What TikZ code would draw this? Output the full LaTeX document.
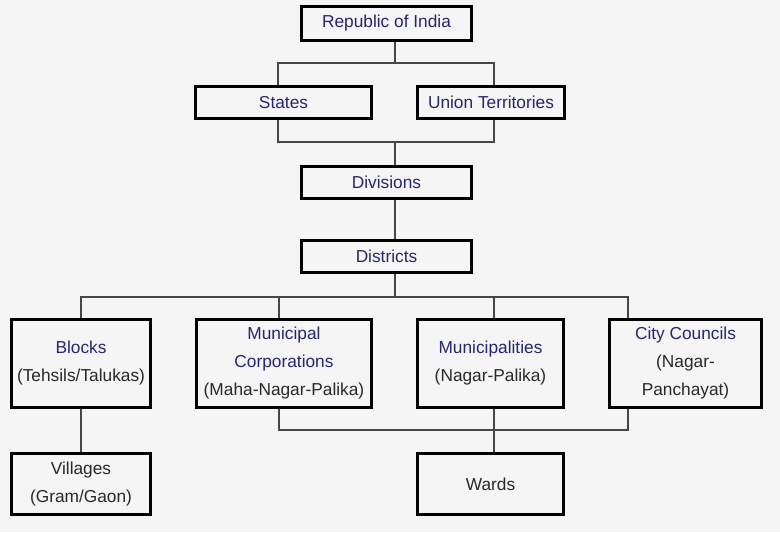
\documentclass[tikz,border=0pt]{standalone}
\usepackage{fontspec}
\setmainfont{Liberation Sans}
\usepackage{tikz}
\usetikzlibrary{calc}

\definecolor{bgcol}{RGB}{245,245,245}
\definecolor{titlecol}{RGB}{38,38,112}
\definecolor{subcol}{RGB}{40,40,40}
\definecolor{linkcol}{RGB}{70,70,70}

\tikzset{
  box/.style={draw=black, line width=1.5pt, fill=bgcol, inner sep=0pt,
    align=center, text=subcol, font=\fontsize{8.65}{14}\selectfont},
  link/.style={draw=linkcol, line width=0.9pt}
}
\newcommand{\ttl}[1]{\textcolor{titlecol}{#1}}

\begin{document}
\begin{tikzpicture}[x=0.5pt, y=-0.5pt]
    % 背景
    \fill[bgcol] (0,0) rectangle (780,532);
    \useasboundingbox (0,0) rectangle (780,532);

    % 上层
    \node[box, minimum width=85pt, minimum height=17pt] (rep) at (386.5,23.5) {\ttl{Republic of India}};
    \node[box, minimum width=88pt, minimum height=16pt] (states) at (283.5,102.5) {\ttl{States}};
    \node[box, minimum width=73.5pt, minimum height=16pt] (ut) at (491,102.5) {\ttl{Union Territories}};
    \node[box, minimum width=85pt, minimum height=16pt] (div) at (386.5,182.5) {\ttl{Divisions}};
    \node[box, minimum width=85pt, minimum height=16pt] (dist) at (386.5,256.5) {\ttl{Districts}};

    % 中层
    \node[box, minimum width=69.5pt, minimum height=44pt] (blocks) at (81,363.5) {\ttl{Blocks}\\(Tehsils/Talukas)};
    \node[box, minimum width=87.5pt, minimum height=44pt] (mc) at (284,363.5) {\ttl{Municipal}\\\ttl{Corporations}\\(Maha-Nagar-Palika)};
    \node[box, minimum width=73pt, minimum height=44pt] (mun) at (490.5,363.5) {\ttl{Municipalities}\\(Nagar-Palika)};
    \node[box, minimum width=76pt, minimum height=44pt] (cc) at (685.5,363.5) {\ttl{City Councils}\\(Nagar-\\Panchayat)};

    % 下层
    \node[box, minimum width=69.5pt, minimum height=30.5pt] (vil) at (81,484) {Villages\\(Gram/Gaon)};
    \node[box, minimum width=73pt, minimum height=30.5pt] (wards) at (490.5,484) {Wards};

    % 连线的拐点
    \coordinate (j1) at (395,63);
    \coordinate (j1L) at (278,63);
    \coordinate (j1R) at (494,63);
    \coordinate (j2) at (395,142);
    \coordinate (j2L) at (278,142);
    \coordinate (j2R) at (494,142);
    \coordinate (j3) at (395,297);
    \coordinate (b1) at (81,297);
    \coordinate (b2) at (279,297);
    \coordinate (b3) at (494,297);
    \coordinate (b4) at (628,297);
    \coordinate (c2) at (279,430);
    \coordinate (c3) at (494,430);
    \coordinate (c4) at (628,430);

    % 连线
    \draw[link] (rep.south -| j1) -- (j1);
    \draw[link] (states.north -| j1L) -- (j1L) -- (j1R) -- (ut.north -| j1R);
    \draw[link] (states.south -| j2L) -- (j2L) -- (j2R) -- (ut.south -| j2R);
    \draw[link] (j2) -- (div.north -| j2);
    \draw[link] (div.south -| j2) -- (dist.north -| j2);
    \draw[link] (dist.south -| j3) -- (j3);
    \draw[link] (blocks.north -| b1) -- (b1) -- (b4) -- (cc.north -| b4);
    \draw[link] (b2) -- (mc.north -| b2);
    \draw[link] (b3) -- (mun.north -| b3);
    \draw[link] (mc.south -| c2) -- (c2) -- (c4) -- (cc.south -| c4);
    \draw[link] (mun.south -| c3) -- (wards.north -| c3);
    \draw[link] (blocks.south) -- (vil.north);
\end{tikzpicture}
\end{document}
